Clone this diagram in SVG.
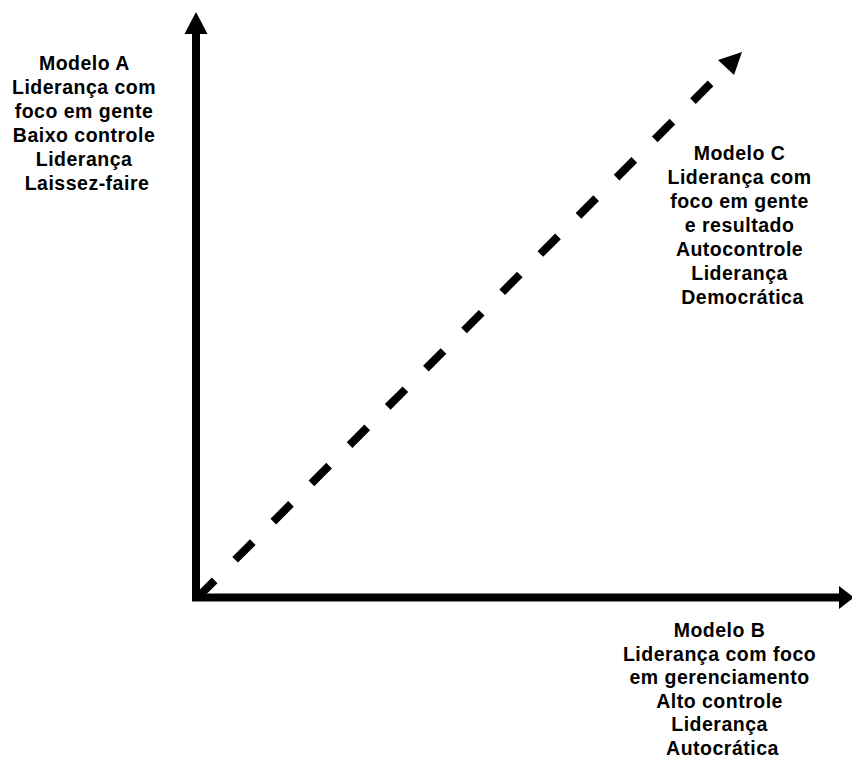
<svg xmlns="http://www.w3.org/2000/svg" width="852" height="760" viewBox="0 0 852 760">
  <style>
    .axis { stroke: #000; stroke-width: 8; fill: none; }
    .diag { stroke: #000; stroke-width: 8; fill: none; stroke-dasharray: 25 29; }
    .head { fill: #000; }
    .lbl { font-family: "Liberation Sans", Arial, sans-serif; font-weight: bold; font-size: 19.5px; letter-spacing: 0.5px; fill: #000; text-anchor: middle; }
  </style>
  <rect width="852" height="760" fill="#fff"/>

  <g id="connectors">
    <!-- vertical axis -->
    <line class="axis" x1="196" y1="601" x2="196" y2="32"/>
    <polygon class="head" points="184.5,34 196,12 207.5,34"/>
    <!-- horizontal axis -->
    <line class="axis" x1="192" y1="597.5" x2="841" y2="597.5"/>
    <polygon class="head" points="839,586 854,597.5 839,609"/>
    <!-- dashed diagonal -->
    <line class="diag" x1="197" y1="598" x2="724" y2="70"/>
    <polygon class="head" points="742,52 718,60 734,75"/>
  </g>

  <g id="modelo-a">
    <text class="lbl" x="87" y="70">
      <tspan x="87">Modelo A</tspan>
      <tspan x="87" dy="24">Liderança com</tspan>
      <tspan x="87" dy="24">foco em gente</tspan>
      <tspan x="87" dy="24">Baixo controle</tspan>
      <tspan x="87" dy="24">Liderança</tspan>
      <tspan x="87" dy="24">Laissez-faire</tspan>
    </text>
  </g>

  <g id="modelo-c">
    <text class="lbl" x="742.5" y="160">
      <tspan x="742.5">Modelo C</tspan>
      <tspan x="742.5" dy="24">Liderança com</tspan>
      <tspan x="742.5" dy="24">foco em gente</tspan>
      <tspan x="742.5" dy="24">e resultado</tspan>
      <tspan x="742.5" dy="24">Autocontrole</tspan>
      <tspan x="742.5" dy="24">Liderança</tspan>
      <tspan x="742.5" dy="24">Democrática</tspan>
    </text>
  </g>

  <g id="modelo-b">
    <text class="lbl" x="722.5" y="637">
      <tspan x="722.5">Modelo B</tspan>
      <tspan x="722.5" dy="23.6">Liderança com foco</tspan>
      <tspan x="722.5" dy="23.6">em gerenciamento</tspan>
      <tspan x="722.5" dy="23.6">Alto controle</tspan>
      <tspan x="722.5" dy="23.6">Liderança</tspan>
      <tspan x="722.5" dy="23.6">Autocrática</tspan>
    </text>
  </g>
</svg>
